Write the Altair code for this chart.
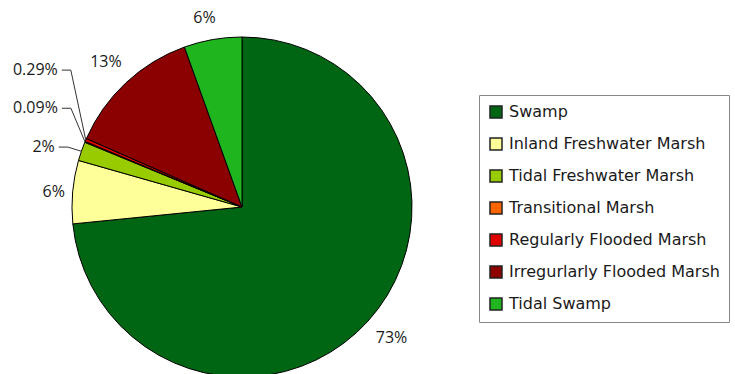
import altair as alt
import pandas as pd

# ---- data ----
categories = [
    "Swamp",
    "Inland Freshwater Marsh",
    "Tidal Freshwater Marsh",
    "Transitional Marsh",
    "Regularly Flooded Marsh",
    "Irregurlarly Flooded Marsh",
    "Tidal Swamp",
]
values = [73.4, 6.0, 1.8, 0.09, 0.29, 12.9, 5.5]
labels = ["73%", "6%", "2%", "0.09%", "0.29%", "13%", "6%"]
colors = ["#006614", "#FFFF99", "#99CC00", "#FF6600", "#E00000", "#8B0000", "#1FB51F"]

df = pd.DataFrame({"category": categories, "value": values, "label": labels,
                   "order": list(range(len(categories)))})

# ---- layout (pixels) ----
CX, CY, R, LR = 242, 207, 170, 195
FONT = "Open Sans"
# label nudges (dx, dy) relative to the mid-angle point at radius LR
NUDGE = {
    "Swamp": (5, 0),
    "Inland Freshwater Marsh": (6, 2),
    "Tidal Freshwater Marsh": (-3, 4),
    "Transitional Marsh": (-4, -24),
    "Regularly Flooded Marsh": (-5, -60),
    "Irregurlarly Flooded Marsh": (-3, -2),
    "Tidal Swamp": (-4, 3),
}


def lookup_expr(idx):
    expr = "0"
    for k, v in NUDGE.items():
        expr = f"(datum.category === '{k}' ? {v[idx]} : {expr})"
    return expr


base = (
    alt.Chart(df)
    .transform_window(cum="sum(value)", sort=[alt.SortField("order")], frame=[None, 0])
    .transform_joinaggregate(total="sum(value)")
    .transform_calculate(mid="(datum.cum - datum.value/2) / datum.total * 2 * PI")
    .transform_calculate(
        lx=f"{CX} + {LR} * sin(datum.mid) + " + lookup_expr(0),
        ly=f"{CY} - {LR} * cos(datum.mid) + " + lookup_expr(1),
        ex=f"{CX} + {R} * sin(datum.mid)",
        ey=f"{CY} - {R} * cos(datum.mid)",
    )
)

arcs = alt.Chart(df).mark_arc(outerRadius=R, stroke="black", strokeWidth=1).encode(
    theta=alt.Theta("value:Q", stack=True),
    order=alt.Order("order:Q"),
    color=alt.Color(
        "category:N",
        scale=alt.Scale(domain=categories, range=colors),
        legend=alt.Legend(
            title=None, orient="none", legendX=479, legendY=95,
            symbolType="square", symbolSize=144, symbolStrokeColor="#222",
            symbolStrokeWidth=1.5, symbolOpacity=1,
            labelFont="DejaVu Sans", labelFontSize=16, labelColor="#1a1a1a",
            labelOffset=5, labelLimit=400, rowPadding=14, padding=9,
            strokeColor="#888", fillColor="white",
        ),
    ),
    x=alt.value(CX),
    y=alt.value(CY),
)

big = base.transform_filter("datum.value >= 5").mark_text(
    font=FONT, fontSize=16, color="#1a1a1a", align="center", baseline="middle"
).encode(
    x=alt.X("lx:Q", scale=None, axis=None),
    y=alt.Y("ly:Q", scale=None, axis=None),
    text="label:N",
)

small = base.transform_filter("datum.value < 5")

small_text = small.mark_text(
    font=FONT, fontSize=16, color="#1a1a1a", align="right", baseline="middle"
).encode(
    x=alt.X("lx:Q", scale=None, axis=None),
    y=alt.Y("ly:Q", scale=None, axis=None),
    text="label:N",
)

hseg = small.transform_calculate(h1="datum.lx + 4", h2="datum.lx + 13").mark_rule(
    color="#333", strokeWidth=1
).encode(
    x=alt.X("h1:Q", scale=None, axis=None),
    x2="h2:Q",
    y=alt.Y("ly:Q", scale=None, axis=None),
)

dseg = small.transform_calculate(h2="datum.lx + 13").mark_rule(
    color="#333", strokeWidth=1
).encode(
    x=alt.X("h2:Q", scale=None, axis=None),
    x2="ex:Q",
    y=alt.Y("ly:Q", scale=None, axis=None),
    y2="ey:Q",
)

chart = (
    alt.layer(arcs, hseg, dseg, big, small_text)
    .properties(width=735, height=374, autosize=alt.AutoSizeParams(type="none"), padding=0)
    .configure_view(stroke=None)
)

chart.save("out.html", embed_options={"renderer": "svg", "actions": False})
